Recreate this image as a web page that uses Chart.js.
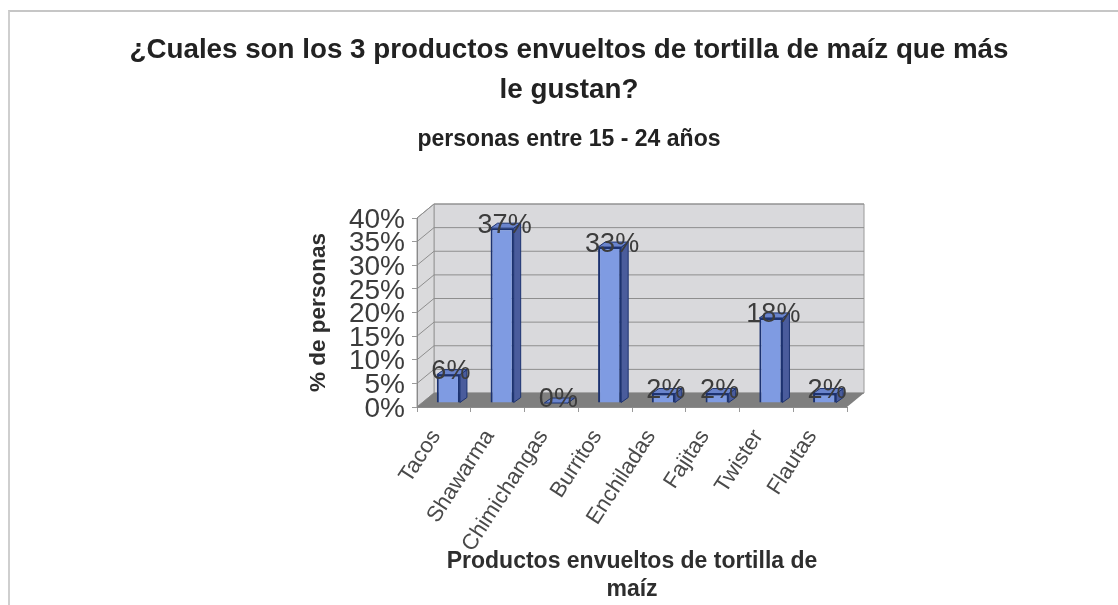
<!DOCTYPE html>
<html>
<head>
<meta charset="utf-8">
<script src="https://cdn.jsdelivr.net/npm/chart.js@4"></script>
<style>
  html, body { margin: 0; padding: 0; background: #fff; overflow: hidden; }
  #frame { position: absolute; left: 8px; top: 10px; width: 1110px; height: 595px;
           border-top: 2px solid #c6c6c6; border-left: 2px solid #cfcfcf; box-sizing: border-box; }
  #c { position: absolute; left: 20px; top: 12px; }
</style>
</head>
<body>
<div id="frame"></div>
<canvas id="c" width="1098" height="593"></canvas>
<script>
const categories = ['Tacos', 'Shawarma', 'Chimichangas', 'Burritos', 'Enchiladas', 'Fajitas', 'Twister', 'Flautas'];
const values = [6, 37, 0, 33, 2, 2, 18, 2];
const titleLines = ['¿Cuales son los 3 productos envueltos de tortilla de maíz que más', 'le gustan?'];
const subtitleText = 'personas entre 15 - 24 años';
const xTitleLines = ['Productos envueltos de tortilla de', 'maíz'];
const yTitleText = '% de personas';

const fontFamily = '"Liberation Sans", Arial, sans-serif';
// depth of the fake 3D box and of the bars
const wallDx = 17, wallDy = -14;
const barShiftX = 4.5, barShiftY = -4;
const barDx = 7, barDy = -5;

function poly(ctx, pts, fill, stroke) {
  ctx.beginPath();
  pts.forEach((p, i) => (i ? ctx.lineTo(p[0], p[1]) : ctx.moveTo(p[0], p[1])));
  ctx.closePath();
  ctx.fillStyle = fill;
  ctx.fill();
  if (stroke) {
    ctx.strokeStyle = stroke;
    ctx.lineWidth = 1;
    ctx.stroke();
  }
}

const box3d = {
  id: 'box3d',
  beforeDraw(chart) {
    const { ctx, chartArea: a, scales } = chart;
    ctx.save();
    poly(ctx, [[a.left + wallDx, a.top + wallDy], [a.right + wallDx, a.top + wallDy], [a.right + wallDx, a.bottom + wallDy], [a.left + wallDx, a.bottom + wallDy]], '#d9d9dc', '#9a9a9a');
    poly(ctx, [[a.left, a.top], [a.left + wallDx, a.top + wallDy], [a.left + wallDx, a.bottom + wallDy], [a.left, a.bottom]], '#dadadc', '#9a9a9a');
    ctx.strokeStyle = '#8e8e8e';
    ctx.lineWidth = 1;
    scales.y.ticks.forEach((t) => {
      const y = scales.y.getPixelForValue(t.value);
      ctx.beginPath();
      ctx.moveTo(a.left, y);
      ctx.lineTo(a.left + wallDx, y + wallDy);
      ctx.lineTo(a.right + wallDx, y + wallDy);
      ctx.stroke();
    });
    poly(ctx, [[a.left, a.bottom], [a.right, a.bottom], [a.right + wallDx, a.bottom + wallDy], [a.left + wallDx, a.bottom + wallDy]], '#7f7f7f');
    ctx.restore();
  },
  beforeDatasetsDraw(chart) {
    const ctx = chart.ctx;
    ctx.save();
    ctx.translate(barShiftX, barShiftY);
    chart.getDatasetMeta(0).data.forEach((bar) => {
      const l = bar.x - bar.width / 2, r = bar.x + bar.width / 2;
      poly(ctx, [[r, bar.y], [r + barDx, bar.y + barDy], [r + barDx, bar.base + barDy], [r, bar.base]], '#4a5c9c', '#1c3270');
      poly(ctx, [[l, bar.y], [r, bar.y], [r + barDx, bar.y + barDy], [l + barDx, bar.y + barDy]], '#6a84cc', '#1c3270');
    });
  },
  afterDatasetsDraw(chart) {
    chart.ctx.restore();
  },
  afterDraw(chart) {
    const ctx = chart.ctx;
    ctx.save();
    ctx.font = '27px ' + fontFamily;
    ctx.fillStyle = '#3c3c3c';
    ctx.textAlign = 'center';
    ctx.textBaseline = 'middle';
    chart.getDatasetMeta(0).data.forEach((bar, i) => {
      ctx.fillText(values[i] + '%', bar.x + barShiftX + 2.5, bar.y + barShiftY - 3);
    });
    ctx.restore();
  },
};

new Chart(document.getElementById('c'), {
  type: 'bar',
  data: {
    labels: categories,
    datasets: [{
      data: values,
      backgroundColor: '#7f9be2',
      borderColor: '#1c3270',
      borderWidth: 2,
      barPercentage: 0.43,
      categoryPercentage: 1,
    }],
  },
  plugins: [box3d],
  options: {
    responsive: false,
    animation: false,
    plugins: {
      legend: { display: false },
      tooltip: { enabled: false },
      title: {
        display: true,
        text: titleLines,
        color: '#222',
        font: { family: fontFamily, size: 27.75, weight: 'bold', lineHeight: '40px' },
        padding: { top: 18, bottom: 0 },
      },
      subtitle: {
        display: true,
        text: subtitleText,
        color: '#222',
        font: { family: fontFamily, size: 23, weight: 'bold', lineHeight: '24px' },
        padding: { top: 18, bottom: 66 },
      },
    },
    scales: {
      x: {
        afterFit(scale) { scale.height = 198; },
        grid: { drawOnChartArea: false, color: '#9a9a9a', tickLength: 5 },
        border: { color: '#8a8a8a' },
        ticks: {
          autoSkip: false,
          minRotation: 57,
          maxRotation: 57,
          padding: 13,
          labelOffset: -8,
          color: '#4a4a4a',
          font: { family: fontFamily, size: 22 },
        },
        title: {
          display: true,
          text: xTitleLines,
          color: '#2e2e2e',
          font: { family: fontFamily, size: 23, weight: 'bold', lineHeight: '28px' },
          padding: { top: 0, bottom: 1 },
        },
      },
      y: {
        min: 0,
        max: 40,
        afterFit(scale) { scale.width = 397; },
        grid: { drawOnChartArea: false, color: '#9a9a9a', tickLength: 5 },
        border: { color: '#8a8a8a' },
        ticks: {
          stepSize: 5,
          autoSkip: false,
          padding: 7,
          labelOffset: 2,
          color: '#3c3c3c',
          font: { family: fontFamily, size: 28 },
          callback: (v) => v + '%',
        },
        title: {
          display: true,
          text: yTitleText,
          color: '#2e2e2e',
          font: { family: fontFamily, size: 22.5, weight: 'bold', lineHeight: '22px' },
          padding: { top: 288, bottom: 0 },
        },
      },
      // empty axis that only reserves the white space right of the plot
      spacer: {
        axis: 'y',
        position: 'right',
        min: 0,
        max: 40,
        afterFit(scale) { scale.width = 271; },
        grid: { display: false },
        border: { display: false },
        ticks: { display: false },
      },
    },
  },
});
</script>
</body>
</html>
